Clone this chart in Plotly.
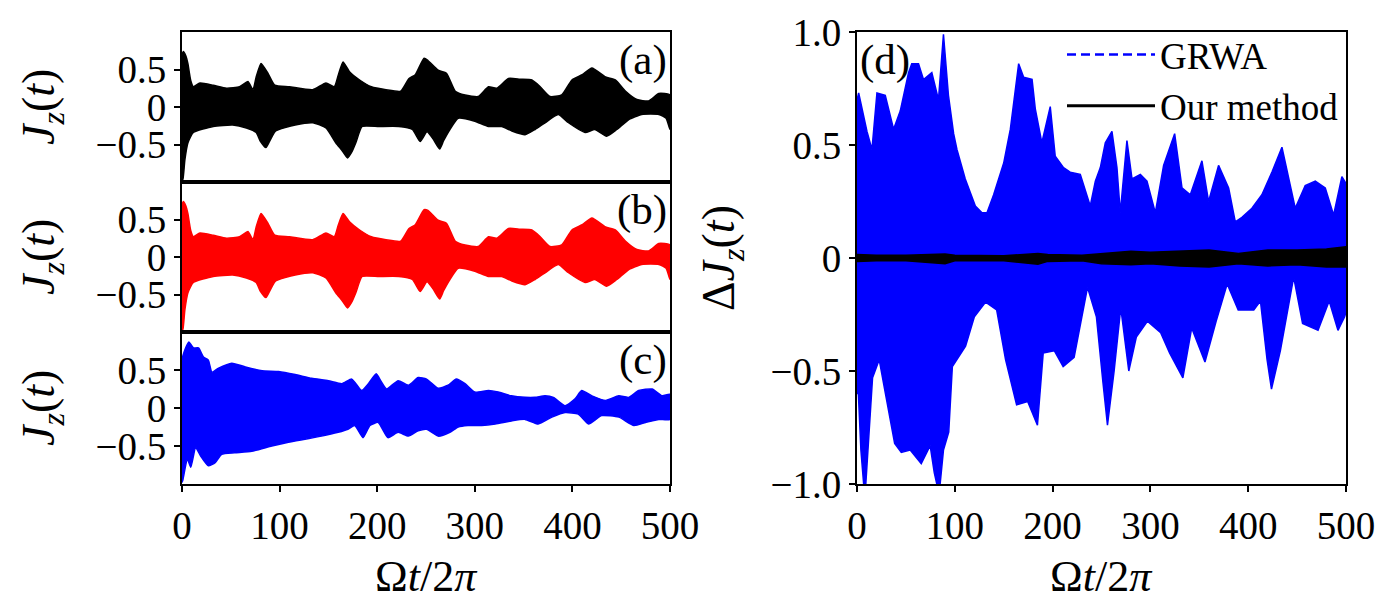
import plotly.graph_objects as go

# ---------------- data (envelopes) ----------------
# panel (a): J_z(t), black
t_a_up = [0, 1.3, 4, 6, 9, 11.6, 18.4, 32, 45.6, 59, 67.6, 72.7, 76, 81, 88, 95, 110, 134, 147.5, 156, 160, 165,
          171.6, 182, 194, 209, 224, 232.6, 239, 248, 252, 262.5, 271, 280, 290, 303.5, 314, 322.5, 334.5, 346.5,
          358.5, 367, 377, 389, 399.5, 410, 420, 434, 444, 454.5, 466, 478, 488.6, 500]
jz_a_up = [0.70, 0.74, 0.68, 0.58, 0.35, 0.27, 0.32, 0.29, 0.25, 0.27, 0.34, 0.23, 0.40, 0.58, 0.45, 0.29, 0.27,
           0.23, 0.32, 0.27, 0.42, 0.60, 0.47, 0.36, 0.27, 0.23, 0.21, 0.38, 0.43, 0.65, 0.62, 0.49, 0.45, 0.21,
           0.16, 0.14, 0.27, 0.25, 0.38, 0.37, 0.36, 0.27, 0.14, 0.16, 0.36, 0.43, 0.52, 0.40, 0.36, 0.21, 0.10,
           0.08, 0.18, 0.16]
t_a_lo = [0, 1, 3, 6, 11.6, 32, 52, 66, 76, 80, 86, 90, 96, 116, 134, 147.5, 157.7, 164, 169.6, 174, 178, 184.6,
          201.7, 222, 236, 244, 251, 257, 264, 268, 274.5, 283, 300, 314, 327.5, 338, 351.5, 361.7, 372, 385.5,
          396, 413, 423, 435, 445.5, 457.5, 471, 488.6, 496, 500]
jz_a_lo = [-0.98, -0.96, -0.70, -0.48, -0.34, -0.26, -0.24, -0.28, -0.34, -0.45, -0.54, -0.45, -0.32, -0.24,
           -0.21, -0.28, -0.48, -0.58, -0.68, -0.60, -0.48, -0.26, -0.26, -0.26, -0.30, -0.46, -0.33, -0.42,
           -0.56, -0.45, -0.30, -0.15, -0.19, -0.26, -0.26, -0.32, -0.37, -0.30, -0.21, -0.10, -0.21, -0.34,
           -0.30, -0.39, -0.30, -0.17, -0.10, -0.10, -0.15, -0.30]

# panel (b): J_z(t), red
t_b_up = [0, 1.3, 4, 6, 9, 11.6, 18.4, 32, 45.6, 59, 67.6, 72.7, 76, 81, 88, 95, 110, 134, 147.5, 156, 160, 165,
          171.6, 182, 194, 209, 224, 232.6, 239, 248, 252, 262.5, 271, 280, 290, 303.5, 314, 322.5, 334.5, 346.5,
          358.5, 367, 377, 389, 399.5, 410, 420, 434, 444, 454.5, 466, 478, 488.6, 500]
jz_b_up = [0.70, 0.74, 0.68, 0.58, 0.35, 0.27, 0.32, 0.29, 0.25, 0.27, 0.34, 0.23, 0.40, 0.58, 0.45, 0.29, 0.27,
           0.23, 0.32, 0.27, 0.42, 0.58, 0.47, 0.36, 0.27, 0.23, 0.21, 0.38, 0.43, 0.63, 0.62, 0.49, 0.45, 0.21,
           0.16, 0.14, 0.27, 0.25, 0.38, 0.37, 0.36, 0.27, 0.14, 0.16, 0.36, 0.43, 0.52, 0.40, 0.36, 0.21, 0.10,
           0.08, 0.18, 0.16]
t_b_lo = [0, 1, 3, 6, 11.6, 32, 52, 66, 76, 80, 86, 90, 96, 116, 134, 147.5, 157.7, 164, 169.6, 174, 178, 184.6,
          201.7, 222, 236, 244, 251, 257, 264, 268, 274.5, 283, 300, 314, 327.5, 338, 351.5, 361.7, 372, 385.5,
          396, 413, 423, 435, 445.5, 457.5, 471, 488.6, 496, 500]
jz_b_lo = [-0.98, -0.96, -0.70, -0.48, -0.34, -0.26, -0.24, -0.28, -0.34, -0.45, -0.54, -0.45, -0.32, -0.24,
           -0.21, -0.28, -0.48, -0.58, -0.68, -0.60, -0.48, -0.26, -0.26, -0.26, -0.30, -0.46, -0.33, -0.42,
           -0.56, -0.45, -0.30, -0.15, -0.19, -0.26, -0.26, -0.32, -0.37, -0.30, -0.21, -0.10, -0.21, -0.34,
           -0.30, -0.39, -0.30, -0.17, -0.10, -0.10, -0.15, -0.30]

# panel (c): J_z(t), blue
t_c_up = [0, 1, 4, 7, 10, 12, 17, 22, 27, 30.7, 37, 51, 65, 82, 99, 116, 133, 150, 163.8, 174, 184, 191, 199, 204,
          209.6, 221.5, 232, 242, 250.6, 262.5, 272.6, 281, 290, 300, 314, 324, 337.5, 351.5, 361.7, 372, 380.5,
          392.5, 402.7, 409.5, 420, 434, 447.5, 457.5, 468, 481.7, 492, 500]
jz_c_up = [0.62, 0.69, 0.80, 0.87, 0.82, 0.79, 0.79, 0.67, 0.63, 0.47, 0.52, 0.59, 0.54, 0.49, 0.48, 0.44, 0.39,
           0.36, 0.32, 0.38, 0.23, 0.32, 0.45, 0.35, 0.25, 0.36, 0.30, 0.40, 0.38, 0.26, 0.30, 0.38, 0.32, 0.21,
           0.23, 0.21, 0.16, 0.14, 0.14, 0.16, 0.14, 0.03, 0.12, 0.23, 0.16, 0.10, 0.16, 0.14, 0.23, 0.25, 0.16,
           0.18]
t_c_lo = [0, 1, 5.5, 9, 14, 19, 27, 34, 40.6, 54, 71.5, 92, 109, 126, 143, 160, 170, 177, 185.5, 192.6, 201, 211,
          221.5, 232, 242, 250.6, 262.5, 274.5, 283, 293, 307, 321, 337.5, 351.5, 365, 379, 392.5, 406, 416.5,
          430, 447.5, 463, 475, 488.6, 500]
jz_c_lo = [-0.98, -0.94, -0.67, -0.78, -0.52, -0.63, -0.76, -0.72, -0.61, -0.59, -0.57, -0.50, -0.45, -0.41,
           -0.37, -0.32, -0.28, -0.23, -0.39, -0.23, -0.19, -0.39, -0.32, -0.37, -0.30, -0.28, -0.37, -0.32,
           -0.25, -0.23, -0.23, -0.21, -0.17, -0.15, -0.21, -0.12, -0.06, -0.08, -0.21, -0.10, -0.12, -0.23,
           -0.19, -0.15, -0.15]

# panel (d): Delta J_z(t), GRWA (blue dashed) and our method (black)
t_g_up = [0, 1.7, 10.2, 15.3, 20.4, 28.9, 37.4, 44.2, 52.7, 56, 62.9, 68, 76.5, 83.3, 88.4, 93.5, 98.8, 102.2,
          110.7, 121, 127.8, 132.9, 139.7, 150, 156.8, 165.3, 170.4, 179, 182.3, 189, 197.6, 202.7, 211.2, 218,
          228.3, 238.5, 243.7, 248.8, 253.9, 260.7, 265.8, 269.2, 276, 281.2, 289.7, 296.5, 305, 313.5, 324.8,
          332.3, 340.8, 352.7, 359.5, 369.7, 380, 386.8, 393.6, 403.8, 414, 424.3, 434.5, 441.3, 448.1, 458.3,
          468.6, 478.8, 487.3, 495.8, 500]
dj_g_up = [0.70, 0.73, 0.56, 0.48, 0.73, 0.72, 0.57, 0.65, 0.82, 0.86, 0.86, 0.79, 0.82, 0.70, 0.99, 0.72, 0.55,
           0.48, 0.35, 0.23, 0.20, 0.20, 0.28, 0.42, 0.57, 0.86, 0.80, 0.79, 0.66, 0.51, 0.67, 0.45, 0.40, 0.38,
           0.37, 0.23, 0.34, 0.40, 0.51, 0.56, 0.40, 0.20, 0.52, 0.35, 0.37, 0.34, 0.20, 0.41, 0.55, 0.31, 0.28,
           0.43, 0.25, 0.41, 0.31, 0.16, 0.18, 0.22, 0.28, 0.38, 0.49, 0.35, 0.22, 0.32, 0.34, 0.31, 0.19, 0.36,
           0.33]
t_g_lo = [0, 1.4, 4, 6.8, 9, 11.3, 15.9, 22.7, 29.5, 38.5, 45.3, 54.4, 65.7, 74.8, 79, 81.6, 85, 88.4, 93.8, 97.5,
          111, 120, 131.5, 142.8, 151.9, 163.2, 174.5, 184.5, 190.4, 201.7, 210.8, 222, 229.8, 235.7, 244.8,
          251.6, 256.1, 262.9, 269.7, 277.9, 285.6, 296.9, 310.5, 319.6, 333.2, 342.2, 355.8, 367.2, 378.5,
          389.8, 405.7, 412.5, 419.3, 423.8, 432.9, 446.5, 455.6, 471.4, 482.8, 491.8, 498.6, 500]
dj_g_lo = [-0.60, -0.60, -0.85, -1.0, -1.0, -0.85, -0.53, -0.45, -0.61, -0.82, -0.86, -0.85, -0.91, -0.83, -0.95,
           -1.0, -1.0, -0.85, -0.77, -0.48, -0.39, -0.26, -0.195, -0.23, -0.45, -0.65, -0.635, -0.74, -0.42,
           -0.41, -0.48, -0.44, -0.26, -0.13, -0.26, -0.555, -0.74, -0.50, -0.22, -0.50, -0.35, -0.28, -0.33,
           -0.42, -0.53, -0.31, -0.46, -0.28, -0.115, -0.23, -0.23, -0.19, -0.45, -0.58, -0.41, -0.085, -0.29,
           -0.32, -0.19, -0.32, -0.26, -0.24]
t_o = [0, 20, 50, 90, 100, 150, 185, 195, 230, 250, 280, 300, 330, 360, 390, 420, 450, 480, 500]
dj_o_up = [0.015, 0.012, 0.012, 0.018, 0.012, 0.010, 0.020, 0.015, 0.012, 0.020, 0.030, 0.025, 0.030, 0.035,
           0.020, 0.035, 0.035, 0.040, 0.050]
dj_o_lo = [-0.015, -0.012, -0.012, -0.025, -0.012, -0.012, -0.028, -0.015, -0.012, -0.025, -0.030, -0.025,
           -0.035, -0.040, -0.025, -0.035, -0.030, -0.040, -0.040]

x_ticks = [0, 100, 200, 300, 400, 500]
x_ticktext = ["0", "100", "200", "300", "400", "500"]
jz_ticks = [-0.5, 0, 0.5]
jz_ticktext = ["\u22120.5", "0", "0.5"]
dj_ticks = [-1.0, -0.5, 0, 0.5, 1.0]
dj_ticktext = ["\u22121.0", "\u22120.5", "0", "0.5", "1.0"]
legend_names = ["GRWA", "Our method"]

# ---------------- figure ----------------
FONT = "Liberation Serif"
W, H = 1393, 616


def band(tu, yu, tl, yl, color, xa, ya, smooth=False):
    line = dict(color=color, width=1.5)
    if smooth:
        line.update(shape="spline", smoothing=0.5)
    return go.Scatter(x=list(tu) + list(tl)[::-1], y=list(yu) + list(yl)[::-1],
                      fill="toself", fillcolor=color, mode="lines",
                      line=line, xaxis=xa, yaxis=ya,
                      showlegend=False, hoverinfo="skip")


fig = go.Figure()
fig.add_trace(band(t_a_up, jz_a_up, t_a_lo, jz_a_lo, "#000000", "x", "y", True))
fig.add_trace(band(t_b_up, jz_b_up, t_b_lo, jz_b_lo, "#ff0000", "x2", "y2", True))
fig.add_trace(band(t_c_up, jz_c_up, t_c_lo, jz_c_lo, "#0000ff", "x3", "y3", True))
fig.add_trace(band(t_g_up, dj_g_up, t_g_lo, dj_g_lo, "#0000ff", "x4", "y4"))
fig.add_trace(band(t_o, dj_o_up, t_o, dj_o_lo, "#000000", "x4", "y4"))

# legend entries
fig.add_trace(go.Scatter(x=[None], y=[None], mode="lines", name=legend_names[0], legendgroup="g1",
                         line=dict(color="#0000ff", width=2.5, dash="9px,5px"), xaxis="x4", yaxis="y4"))
fig.add_trace(go.Scatter(x=[None], y=[None], mode="lines", name=legend_names[1], legendgroup="g2",
                         line=dict(color="#000000", width=3), xaxis="x4", yaxis="y4"))


def px_x(p):
    return p / W


def px_y(p):
    return 1 - p / H


LX = [px_x(182), px_x(670)]
RX = [px_x(857), px_x(1346)]
DA = [px_y(182), px_y(32)]
DB = [px_y(332), px_y(182)]
DC = [px_y(484), px_y(332)]
DD = [px_y(484), px_y(32)]

tickfont = dict(family=FONT, size=39, color="black")
axis_common = dict(showline=True, linecolor="black", linewidth=2, mirror=True, showgrid=False,
                   zeroline=False, tickfont=tickfont, ticks="outside", ticklen=6, tickwidth=1.5,
                   tickcolor="black", automargin=False)

layout = dict(
    template="none",
    width=W, height=H, margin=dict(l=0, r=0, t=0, b=0, pad=0, autoexpand=False),
    paper_bgcolor="white", plot_bgcolor="white",
    font=dict(family=FONT, color="black"),
    showlegend=True,
    legend=dict(x=px_x(1062), y=px_y(24), xanchor="left", yanchor="top",
                font=dict(family=FONT, size=37, color="black"), bgcolor="rgba(0,0,0,0)",
                tracegroupgap=0, itemwidth=88),
)
for i, (dom, show) in enumerate([(DA, False), (DB, False), (DC, True)], start=1):
    sfx = "" if i == 1 else str(i)
    layout["xaxis" + sfx] = dict(axis_common, domain=LX, range=[0, 500], anchor="y" + sfx,
                                 tickvals=x_ticks, ticktext=x_ticktext, showticklabels=show,
                                 ticks="outside" if show else "")
    layout["yaxis" + sfx] = dict(axis_common, domain=dom, range=[-1, 1], anchor="x" + sfx,
                                 tickvals=jz_ticks, ticktext=jz_ticktext)
layout["xaxis4"] = dict(axis_common, domain=RX, range=[0, 500], anchor="y4",
                        tickvals=x_ticks, ticktext=x_ticktext)
layout["yaxis4"] = dict(axis_common, domain=DD, range=[-1, 1], anchor="x4",
                        tickvals=dj_ticks, ticktext=dj_ticktext)
fig.update_layout(**layout)

ytitle_font = dict(family=FONT, size=46, color="black")
xtitle_font = dict(family=FONT, size=44, color="black")
lab_font = dict(family=FONT, size=43, color="black")
anns = []
jz_title = "<i>J</i><sub><i>z</i></sub>(<i>t</i>)"
for yc in [107, 257, 408]:
    anns.append(dict(text=jz_title, x=px_x(42), y=px_y(yc), xref="paper", yref="paper",
                     xanchor="center", yanchor="middle", textangle=-90, showarrow=False, font=ytitle_font))
anns.append(dict(text="\u0394<i>J</i><sub><i>z</i></sub>(<i>t</i>)", x=px_x(722), y=px_y(258),
                 xref="paper", yref="paper", xanchor="center", yanchor="middle", textangle=-90,
                 showarrow=False, font=ytitle_font))
for xc in [426, 1101]:
    anns.append(dict(text="\u03a9<i>t</i>/2<i>\u03c0</i>", x=px_x(xc), y=px_y(576), xref="paper",
                     yref="paper", xanchor="center", yanchor="middle", showarrow=False, font=xtitle_font))
for lab, yc in [("(a)", 60), ("(b)", 210), ("(c)", 360)]:
    anns.append(dict(text=lab, x=px_x(669), y=px_y(yc), xref="paper", yref="paper", xanchor="right",
                     yanchor="middle", showarrow=False, font=lab_font))
anns.append(dict(text="(d)", x=px_x(858), y=px_y(60), xref="paper", yref="paper", xanchor="left",
                 yanchor="middle", showarrow=False, font=lab_font))
fig.update_layout(annotations=anns)

fig.write_html("out.html")
